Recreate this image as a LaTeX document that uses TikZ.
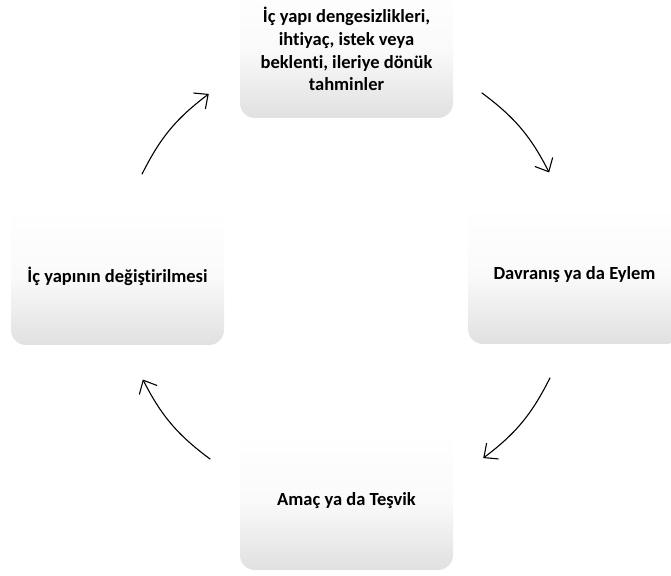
\documentclass[tikz,border=0pt]{standalone}
\usepackage{fontspec}
\setmainfont{Carlito}[Ligatures=NoCommon]
\usetikzlibrary{arrows.meta,calc}
\begin{document}
\begin{tikzpicture}[x=1pt,y=1pt,
  stagebox/.style={rounded corners=15pt, minimum width=213pt, minimum height=138pt,
    top color=white, bottom color=black!12, middle color=white!98!black,
    align=center, font=\fontsize{18.5}{22.8}\selectfont\bfseries, inner sep=0pt},
  cyclearrow/.style={line width=1.1pt, -{Straight Barb[length=11pt,width=20pt,line width=1.1pt]}}]
\clip (0,0) rectangle (671,575);
\useasboundingbox (0,0) rectangle (671,575);
\coordinate (c) at (346,299);
\node[stagebox] (top) at (346.5,526) {İç yapı dengesizlikleri,\\ihtiyaç, istek veya\\beklenti, ileriye dönük\\tahminler};
\node[stagebox] (right) at (574.5,300) {Davranış ya da Eylem};
\node[stagebox] (bottom) at (346.5,74) {Amaç ya da Teşvik};
\node[stagebox] (left) at (117.5,299) {İç yapının değiştirilmesi};
\coordinate (a1s) at ($(c)+(153.5:228)$);
\coordinate (a1e) at ($(c)+(127:228)$);
\coordinate (a2s) at ($(c)+(53.5:228)$);
\coordinate (a2e) at ($(c)+(27:228)$);
\coordinate (a3s) at ($(c)+(-26.5:228)$);
\coordinate (a3e) at ($(c)+(-53:228)$);
\coordinate (a4s) at ($(c)+(-126.5:228)$);
\coordinate (a4e) at ($(c)+(-153:228)$);
\draw[cyclearrow] (a1s) to[bend left=13.25] (a1e);
\draw[cyclearrow] (a2s) to[bend left=13.25] (a2e);
\draw[cyclearrow] (a3s) to[bend left=13.25] (a3e);
\draw[cyclearrow] (a4s) to[bend left=13.25] (a4e);
\end{tikzpicture}
\end{document}
